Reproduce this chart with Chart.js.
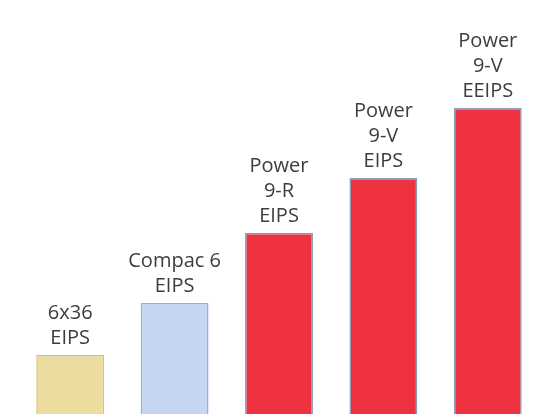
<!DOCTYPE html>
<html>
<head>
<meta charset="utf-8">
<script src="https://cdn.jsdelivr.net/npm/chart.js@4/dist/chart.umd.min.js"></script>
<style>
  body { margin: 0; background: #fff; }
  #wrap { width: 540px; height: 414px; }
</style>
</head>
<body>
<div id="wrap"><canvas id="chart" width="540" height="414"></canvas></div>
<script>
const categories = [
  ["6x36", "EIPS"],
  ["Compac 6", "EIPS"],
  ["Power", "9-R", "EIPS"],
  ["Power", "9-V", "EIPS"],
  ["Power", "9-V", "EEIPS"],
];
const values = [59, 111, 181, 236, 306];

const fillColors = ["#ecdca0", "#c6d6f2", "#ee323f", "#ee323f", "#ee323f"];
const edgeColors = ["#d9c26e", "#8fb0e8", "#8a9ab8", "#8a9ab8", "#8a9ab8"];

const labelPlugin = {
  id: "stackedLabels",
  afterDatasetsDraw(chart) {
    const ctx = chart.ctx;
    const meta = chart.getDatasetMeta(0);
    ctx.save();
    ctx.font = "20px 'Open Sans'";
    ctx.fillStyle = "#3d3d3d";
    ctx.textAlign = "center";
    ctx.textBaseline = "alphabetic";
    meta.data.forEach((bar, i) => {
      const lines = categories[i];
      const lineHeight = 25;
      let y = bar.y - 11;
      for (let k = lines.length - 1; k >= 0; k--) {
        ctx.fillText(lines[k], bar.x, y);
        y -= lineHeight;
      }
    });
    ctx.restore();
  },
};

new Chart(document.querySelector("#chart"), {
  type: "bar",
  data: {
    labels: categories.map((c) => c.join(" ")),
    datasets: [
      {
        data: values,
        backgroundColor: fillColors,
        borderColor: edgeColors,
        borderWidth: 1.5,
        categoryPercentage: 1,
        barPercentage: 0.65,
      },
    ],
  },
  options: {
    responsive: false,
    animation: false,
    layout: { padding: { left: 18, right: 0, top: 0, bottom: 0 } },
    plugins: { legend: { display: false }, tooltip: { enabled: false } },
    scales: {
      x: { display: false, offset: true },
      y: { display: false, min: 0, max: 414 },
    },
  },
  plugins: [labelPlugin],
});
</script>
</body>
</html>
